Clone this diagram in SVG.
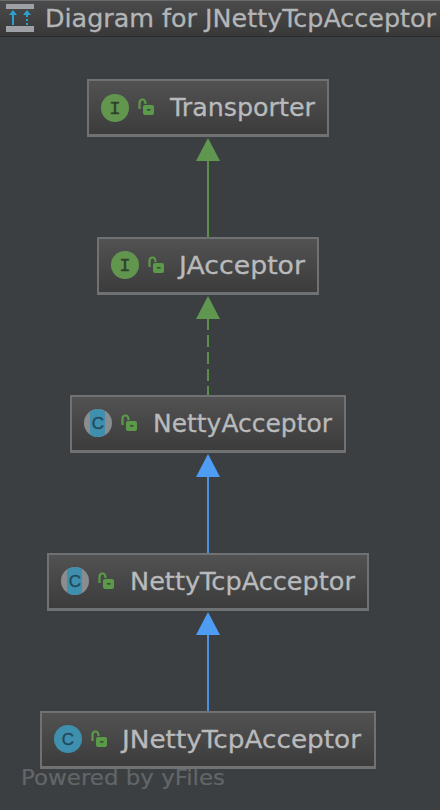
<svg xmlns="http://www.w3.org/2000/svg" width="440" height="810" viewBox="0 0 440 810">
<style>
text{font-family:"DejaVu Sans","Liberation Sans",sans-serif}
.box{fill:url(#nodeGrad);stroke:#6f7172;stroke-width:2}
.sh{fill:#6f7172}
.name{font-size:25px;fill:#b9babc;stroke:#b9babc;stroke-width:.3}
.conn{fill:none;stroke-width:2}
.green{stroke:#5b8f4a}
.blue{stroke:#4e8fe0}
.iface{fill:#62964f}
.cls{fill:#3f8fae}
.ltr{font-family:"Liberation Mono",monospace;font-size:19px;fill:#2e3f2a;stroke:#2e3f2a;stroke-width:.4;text-anchor:middle}
.cl{font-family:"Liberation Sans",sans-serif;font-size:17px;fill:#1f4a5c;stroke:#1f4a5c;stroke-width:.4;text-anchor:middle}
.lockb{fill:#5a9a48}
.locks{fill:none;stroke:#5a9a48;stroke-width:2.200}
</style>
<defs>
<linearGradient id="nodeGrad" x1="0" y1="0" x2="0" y2="1"><stop offset="0" stop-color="#525252"/><stop offset="1" stop-color="#3b3b3b"/></linearGradient>
<linearGradient id="barGrad" x1="0" y1="0" x2="0" y2="1"><stop offset="0" stop-color="#4a4b4c"/><stop offset="1" stop-color="#393939"/></linearGradient>
<g id="lock"><path class="locks" d="M-8.500 1V-5Q-8.500 -8.500 -5.500 -8.500Q-2.500 -8.500 -2.500 -4"/><rect class="lockb" x="-5" y="-3" width="11" height="10" rx="2"/><rect x="-1" y="1" width="3.500" height="1.600" fill="#3a4a35"/></g>
<g id="abstractC"><circle r="14" fill="#8a8d90"/><path class="cls" d="M-8 -11.500A14 14 0 0 1 7 -11.800V11.800A14 14 0 0 1 -8 11.500Z"/></g>
</defs>
<rect width="440" height="810" fill="#3c3f41"/>
<g id="header">
<rect width="440" height="36" fill="url(#barGrad)"/>
<rect y="0" width="440" height="1" fill="#6a6a6a"/>
<rect y="36" width="440" height="1" fill="#2b2b2b"/>
<rect x="6" y="4" width="28" height="5" fill="#9ea2a6"/>
<rect x="6" y="26" width="28" height="6" fill="#9ea2a6"/>
<path d="M13 10l-4 5h3v10h2V15h3zM27 10l-4 5h3v2h2v-2h3zM26 19h2v2h-2zM26 23h2v2h-2z" fill="#2a9fd0"/>
<text x="45" y="27" font-size="25" fill="#b3b5b7" stroke="#b3b5b7" stroke-width=".3" textLength="391" lengthAdjust="spacingAndGlyphs">Diagram for JNettyTcpAcceptor</text>
</g>
<g id="connectors">
<path class="conn green" d="M208 160V238"/>
<polygon points="208,138 220,161 196,161" fill="#5f9650"/>
<path class="conn green" d="M208 318V396" stroke-dasharray="12 5"/>
<polygon points="208,296 220,319 196,319" fill="#5f9650"/>
<path class="conn blue" d="M208 476V554"/>
<polygon points="208,454 220,477 196,477" fill="#4f9cf5"/>
<path class="conn blue" d="M208 634V712"/>
<polygon points="208,612 220,635 196,635" fill="#4f9cf5"/>
</g>
<g id="transporter">
<rect class="box" x="88" y="80" width="240" height="56"/><rect class="sh" x="88" y="134" width="240" height="3"/>
<circle class="iface" cx="115" cy="108" r="14"/><text class="ltr" x="115" y="114">I</text>
<use href="#lock" x="148" y="108"/>
<text class="name" x="170" y="116" textLength="145" lengthAdjust="spacingAndGlyphs">Transporter</text>
</g>
<g id="jacceptor">
<rect class="box" x="98" y="238" width="220" height="56"/><rect class="sh" x="98" y="292" width="220" height="3"/>
<circle class="iface" cx="125" cy="265" r="14"/><text class="ltr" x="125" y="271">I</text>
<use href="#lock" x="158" y="266"/>
<text class="name" x="179" y="274" textLength="126" lengthAdjust="spacingAndGlyphs">JAcceptor</text>
</g>
<g id="nettyacceptor">
<rect class="box" x="71" y="396" width="274" height="56"/><rect class="sh" x="71" y="450" width="274" height="3"/>
<use href="#abstractC" x="98" y="423"/><text class="cl" x="98" y="429">C</text>
<use href="#lock" x="131" y="424"/>
<text class="name" x="153" y="432" textLength="179" lengthAdjust="spacingAndGlyphs">NettyAcceptor</text>
</g>
<g id="nettytcpacceptor">
<rect class="box" x="48" y="554" width="320" height="56"/><rect class="sh" x="48" y="608" width="320" height="3"/>
<use href="#abstractC" x="75" y="581"/><text class="cl" x="75" y="587">C</text>
<use href="#lock" x="108" y="582"/>
<text class="name" x="130" y="590" textLength="225" lengthAdjust="spacingAndGlyphs">NettyTcpAcceptor</text>
</g>
<g id="jnettytcpacceptor">
<rect class="box" x="41" y="712" width="334" height="56"/><rect class="sh" x="41" y="766" width="334" height="3"/>
<circle class="cls" cx="68" cy="739" r="14"/><text class="cl" x="68" y="745">C</text>
<use href="#lock" x="101" y="740"/>
<text class="name" x="122" y="748" textLength="239" lengthAdjust="spacingAndGlyphs">JNettyTcpAcceptor</text>
</g>
<text id="powered" x="21" y="785" font-size="21" fill="#636668" stroke="#636668" stroke-width=".2" textLength="204" lengthAdjust="spacingAndGlyphs">Powered by yFiles</text>
</svg>
